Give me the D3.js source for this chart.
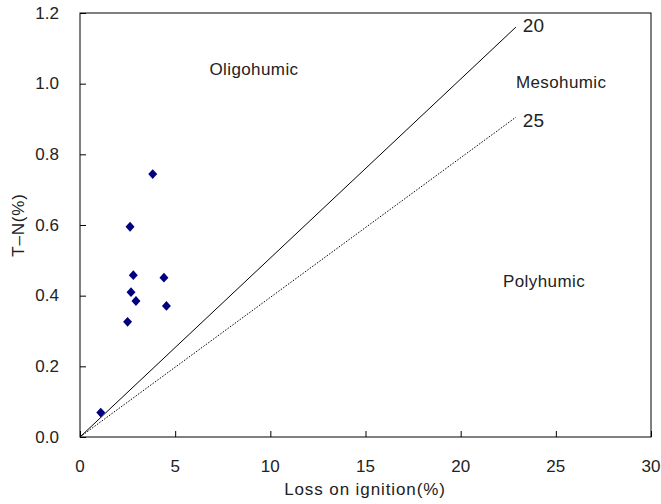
<!DOCTYPE html>
<html>
<head>
<meta charset="utf-8">
<script src="https://d3js.org/d3.v7.min.js"></script>
<style>
  body { margin: 0; background: #fff; }
  text { font-family: "Liberation Sans", Arial, sans-serif; fill: #222; }
</style>
</head>
<body>
<svg id="chart" width="661" height="504"></svg>
<script>
// samples: loss on ignition (%) vs T-N (%)
const loi = [3.82, 2.63, 2.80, 4.41, 2.68, 2.94, 4.54, 2.50, 1.09];
const tn = [0.744, 0.595, 0.458, 0.451, 0.410, 0.385, 0.371, 0.326, 0.069];

// C/N ratio reference lines
const ratioNames = ["20", "25"];
const ratioEndX = [22.9, 22.9];
const ratioEndY = [1.16, 0.905];

const zoneNames = ["Oligohumic", "Mesohumic", "Polyhumic"];
const zoneX = [9.14, 25.28, 24.38];
const zoneY = [1.025, 0.988, 0.425];

const xTicks = [0, 5, 10, 15, 20, 25, 30];
const yTicks = [0, 0.2, 0.4, 0.6, 0.8, 1.0, 1.2];

const svg = d3.select("#chart");
const mLeft = 80, mRight = 651, mTop = 13, mBottom = 437;

const x = d3.scaleLinear().domain([0, 30]).range([mLeft, mRight]);
const y = d3.scaleLinear().domain([0, 1.2]).range([mBottom, mTop]);

// frame
svg.append("rect")
  .attr("x", mLeft).attr("y", mTop)
  .attr("width", mRight - mLeft).attr("height", mBottom - mTop)
  .attr("fill", "none").attr("stroke", "#000").attr("stroke-width", 1);

// axes with inward ticks
const xAxis = svg.append("g")
  .attr("transform", "translate(0," + mBottom + ")")
  .call(d3.axisTop(x).tickValues(xTicks).tickSize(6).tickFormat(""));
xAxis.select(".domain").remove();

svg.append("g").selectAll("text")
  .data(xTicks).join("text")
  .attr("x", d => x(d)).attr("y", 472)
  .attr("text-anchor", "middle")
  .attr("font-size", 17)
  .text(d => d);

const yAxis = svg.append("g")
  .attr("transform", "translate(" + mLeft + ",0)")
  .call(d3.axisRight(y).tickValues(yTicks).tickSize(6).tickFormat(""));
yAxis.select(".domain").remove();

svg.append("g").selectAll("text")
  .data(yTicks).join("text")
  .attr("x", 59).attr("y", d => y(d) + 5.5)
  .attr("text-anchor", "end")
  .attr("font-size", 17)
  .text(d => d.toFixed(1));

// axis titles
svg.append("text")
  .attr("x", 365).attr("y", 495)
  .attr("text-anchor", "middle").attr("font-size", 17)
  .attr("letter-spacing", 0.9)
  .text("Loss on ignition(%)");

svg.append("text")
  .attr("transform", "translate(24,225) rotate(-90)")
  .attr("text-anchor", "middle").attr("font-size", 17)
  .attr("letter-spacing", 0.8)
  .text("T\u2013N(%)");

// ratio lines
const labelDy = [5, 10];
ratioNames.forEach((name, i) => {
  svg.append("line")
    .attr("x1", x(0)).attr("y1", y(0))
    .attr("x2", x(ratioEndX[i])).attr("y2", y(ratioEndY[i]))
    .attr("stroke", "#000").attr("stroke-width", 1)
    .attr("stroke-dasharray", i === 1 ? "1.5,1.5" : null);
  svg.append("text")
    .attr("x", x(ratioEndX[i]) + 7).attr("y", y(ratioEndY[i]) + labelDy[i])
    .attr("font-family", "Liberation Serif, serif")
    .attr("font-size", 19)
    .text(name);
});

// zone labels
svg.append("g").selectAll("text")
  .data(zoneNames).join("text")
  .attr("x", (d, i) => x(zoneX[i])).attr("y", (d, i) => y(zoneY[i]))
  .attr("text-anchor", "middle")
  .attr("font-size", 17).attr("letter-spacing", 0.4)
  .text(d => d);

// points (diamonds)
const marker = d3.symbol().type(d3.symbolSquare).size(40);
svg.append("g").selectAll("path")
  .data(loi).join("path")
  .attr("transform", (d, i) => "translate(" + x(d) + "," + y(tn[i]) + ") scale(1,1.1) rotate(45)")
  .attr("d", marker)
  .attr("fill", "#000080");
</script>
</body>
</html>
